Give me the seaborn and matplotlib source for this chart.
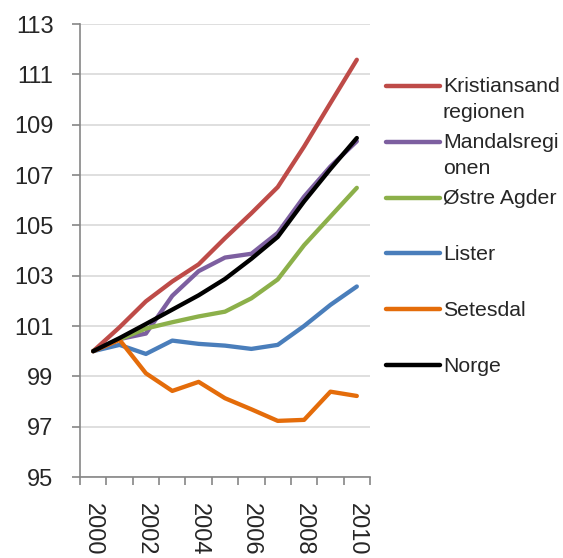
import numpy as np
import pandas as pd
import matplotlib
matplotlib.use("Agg")
import matplotlib.pyplot as plt
from matplotlib.lines import Line2D
import seaborn as sns

# data (index, 2000 = 100)
years = list(range(2000, 2011))
kristiansand = [100.0, 100.95, 101.98, 102.77, 103.45, 104.49, 105.48, 106.52, 108.13, 109.86, 111.58]
mandal = [100.0, 100.48, 100.70, 102.20, 103.18, 103.72, 103.87, 104.70, 106.14, 107.34, 108.34]
ostre_agder = [100.0, 100.47, 100.90, 101.15, 101.38, 101.57, 102.10, 102.85, 104.21, 105.35, 106.49]
lister = [100.0, 100.25, 99.89, 100.42, 100.29, 100.22, 100.09, 100.25, 101.00, 101.84, 102.57]
setesdal = [100.0, 100.45, 99.12, 98.42, 98.78, 98.13, 97.69, 97.23, 97.27, 98.39, 98.22]
norge = [100.0, 100.52, 101.08, 101.65, 102.22, 102.87, 103.67, 104.54, 105.95, 107.24, 108.47]

series_names = ["Kristiansand regionen", "Mandalsregionen", "Østre Agder", "Lister", "Setesdal", "Norge"]
legend_lines = [["Kristiansand", "regionen"], ["Mandalsregi", "onen"], ["Østre Agder"],
                ["Lister"], ["Setesdal"], ["Norge"]]
series_values = [kristiansand, mandal, ostre_agder, lister, setesdal, norge]
colors = ["#BE4B48", "#7D5FA0", "#8CB04A", "#4A7EBB", "#E46C0A", "#000000"]
ytick_values = list(range(95, 114, 2))

rows = []
for name, vals in zip(series_names, series_values):
    for i, v in enumerate(vals):
        rows.append({"idx": i, "year": years[i], "region": name, "value": v})
df = pd.DataFrame(rows)

sns.set_style("white")
plt.rcParams["font.family"] = ["Liberation Sans", "DejaVu Sans"]

fig = plt.figure(figsize=(5.63, 5.58), dpi=100)
ax = fig.add_axes([80 / 563, 81 / 558, 290 / 563, 453 / 558])

sns.lineplot(data=df, x="idx", y="value", hue="region", hue_order=series_names,
             palette=colors, linewidth=3.1, legend=False, ax=ax,
             solid_capstyle="round", solid_joinstyle="round")

ax.set_yticks(ytick_values)
ax.set_yticklabels([str(v) for v in ytick_values], fontsize=17)
ax.yaxis.grid(True, color="#D9D9D9", linewidth=1.2)
ax.set_axisbelow(True)

# category boundaries as major ticks, labels every second year as minor ticks
ax.set_xticks(np.arange(-0.5, len(years), 1.0))
ax.set_xticklabels([])
lab_idx = list(range(0, len(years), 2))
ax.set_xticks(lab_idx, minor=True)
ax.set_xticklabels([str(years[i]) for i in lab_idx], minor=True, rotation=270,
                   fontsize=17, va="top", ha="center")
ax.tick_params(axis="x", which="major", direction="out", length=6, width=1.2, color="#868686", bottom=True)
ax.tick_params(axis="x", which="minor", length=0, pad=19)
ax.tick_params(axis="y", direction="out", length=6, width=1.2, color="#868686", left=True, pad=13)
ax.set_xlim(-0.5, len(years) - 0.5)
ax.set_ylim(95, 113)

for s in ["top", "right"]:
    ax.spines[s].set_visible(False)
for s in ["left", "bottom"]:
    ax.spines[s].set_color("#868686")
    ax.spines[s].set_linewidth(1.2)
ax.set_xlabel("")
ax.set_ylabel("")

# legend drawn by hand so the handle lines up with the first text line
leg_y = [86, 142, 198, 253, 309, 365]
for lines, col, yp in zip(legend_lines, colors, leg_y):
    yf = 1 - yp / 558
    fig.add_artist(Line2D([386 / 563, 440 / 563], [yf, yf], color=col, linewidth=3.2,
                          solid_capstyle="round", transform=fig.transFigure))
    for k, txt in enumerate(lines):
        fig.text(443 / 563, 1 - (yp + 1 + 26 * k) / 558, txt, fontsize=15.3,
                 va="center", ha="left")

fig.savefig("out.png", dpi=100)
